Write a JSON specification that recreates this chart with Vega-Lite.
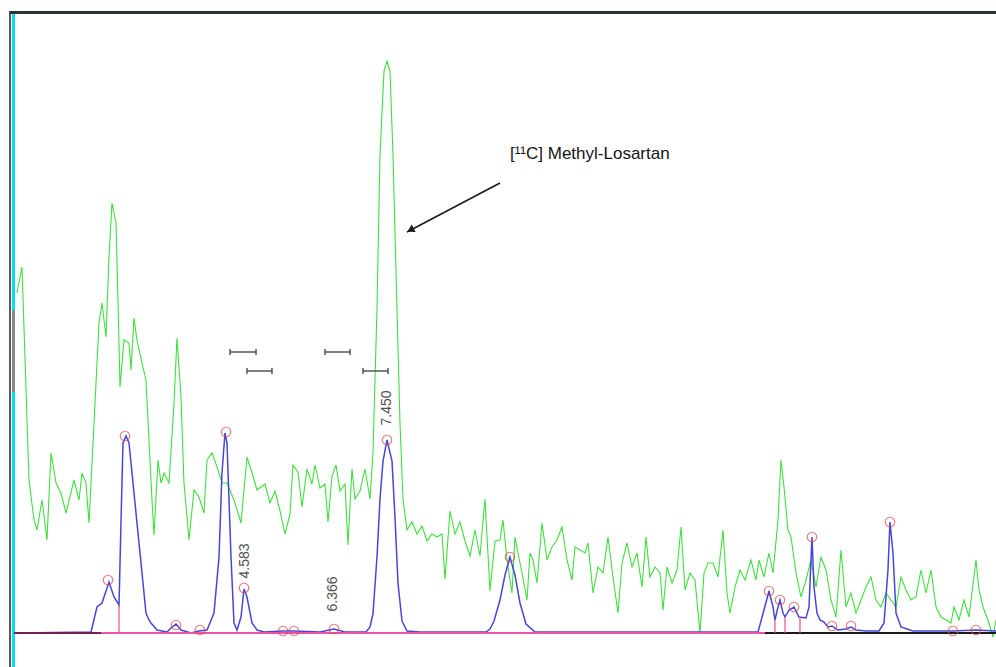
{
  "$schema": "https://vega.github.io/schema/vega-lite/v6.json",
  "width": 986,
  "height": 656,
  "autosize": {"type": "none"},
  "padding": {"left": 10, "top": 11, "right": 0, "bottom": 0},
  "background": "white",
  "config": {"view": {"stroke": null}},
  "datasets": {
    "frame": [{"edge": "frame"}],
    "green": [
      {"t":0.060,"s":340},{"t":0.159,"s":366},{"t":0.299,"s":153},{"t":0.398,"s":113},{"t":0.458,"s":103},{"t":0.558,"s":133},{"t":0.657,"s":93},{"t":0.737,"s":180},{"t":0.837,"s":150},{"t":0.936,"s":140},{"t":1.036,"s":120},{"t":1.195,"s":153},{"t":1.295,"s":133},{"t":1.355,"s":160},{"t":1.434,"s":150},{"t":1.494,"s":110},{"t":1.594,"s":210},{"t":1.693,"s":310},{"t":1.753,"s":330},{"t":1.833,"s":296},{"t":1.892,"s":376},{"t":1.952,"s":430},{"t":2.032,"s":410},{"t":2.072,"s":330},{"t":2.112,"s":246},{"t":2.191,"s":293},{"t":2.291,"s":290},{"t":2.331,"s":263},{"t":2.390,"s":315},{"t":2.450,"s":293},{"t":2.550,"s":270},{"t":2.629,"s":253},{"t":2.689,"s":193},{"t":2.749,"s":133},{"t":2.789,"s":98},{"t":2.869,"s":173},{"t":2.928,"s":150},{"t":2.988,"s":160},{"t":3.088,"s":150},{"t":3.187,"s":230},{"t":3.247,"s":295},{"t":3.327,"s":236},{"t":3.386,"s":150},{"t":3.486,"s":93},{"t":3.586,"s":143},{"t":3.685,"s":136},{"t":3.785,"s":120},{"t":3.845,"s":173},{"t":3.944,"s":180},{"t":4.044,"s":166},{"t":4.143,"s":150},{"t":4.243,"s":150},{"t":4.382,"s":133},{"t":4.522,"s":110},{"t":4.641,"s":176},{"t":4.741,"s":160},{"t":4.841,"s":143},
      {"t":5.000,"s":149},{"t":5.100,"s":130},{"t":5.199,"s":142},{"t":5.299,"s":122},{"t":5.398,"s":99},{"t":5.498,"s":119},{"t":5.558,"s":168},{"t":5.657,"s":161},{"t":5.737,"s":126},{"t":5.837,"s":164},{"t":5.936,"s":149},{"t":5.996,"s":168},{"t":6.096,"s":145},{"t":6.195,"s":149},{"t":6.255,"s":111},{"t":6.335,"s":157},{"t":6.414,"s":168},{"t":6.494,"s":142},{"t":6.594,"s":149},{"t":6.653,"s":88},{"t":6.733,"s":164},{"t":6.793,"s":134},{"t":6.892,"s":142},{"t":6.992,"s":164},{"t":7.092,"s":134},{"t":7.151,"s":180},{"t":7.231,"s":325},{"t":7.291,"s":478},{"t":7.371,"s":562},{"t":7.430,"s":572},{"t":7.490,"s":562},{"t":7.550,"s":478},{"t":7.629,"s":325},{"t":7.689,"s":210},{"t":7.749,"s":134},{"t":7.829,"s":103},{"t":7.928,"s":111},{"t":8.028,"s":99},{"t":8.127,"s":107},{"t":8.227,"s":92},{"t":8.327,"s":99},{"t":8.426,"s":96},{"t":8.526,"s":99},{"t":8.586,"s":54},{"t":8.685,"s":122},{"t":8.785,"s":99},{"t":8.884,"s":111},{"t":8.984,"s":92},{"t":9.084,"s":77},{"t":9.183,"s":103},{"t":9.283,"s":77},{"t":9.382,"s":134},{"t":9.482,"s":42},{"t":9.582,"s":92},
      {"t":9.681,"s":93},{"t":9.741,"s":113},{"t":9.821,"s":73},{"t":9.920,"s":40},{"t":9.980,"s":96},{"t":10.040,"s":80},{"t":10.120,"s":60},{"t":10.219,"s":33},{"t":10.279,"s":80},{"t":10.339,"s":73},{"t":10.418,"s":50},{"t":10.518,"s":110},{"t":10.618,"s":73},{"t":10.717,"s":86},{"t":10.817,"s":93},{"t":10.916,"s":106},{"t":11.016,"s":73},{"t":11.116,"s":53},{"t":11.175,"s":86},{"t":11.275,"s":83},{"t":11.375,"s":80},{"t":11.434,"s":90},{"t":11.534,"s":40},{"t":11.633,"s":66},{"t":11.733,"s":60},{"t":11.833,"s":96},{"t":11.932,"s":56},{"t":12.032,"s":20},{"t":12.112,"s":70},{"t":12.211,"s":90},{"t":12.311,"s":66},{"t":12.410,"s":80},{"t":12.510,"s":46},{"t":12.590,"s":96},{"t":12.669,"s":56},{"t":12.769,"s":66},{"t":12.869,"s":60},{"t":12.928,"s":23},{"t":13.008,"s":66},{"t":13.108,"s":50},{"t":13.207,"s":63},{"t":13.287,"s":106},{"t":13.367,"s":43},{"t":13.466,"s":60},{"t":13.566,"s":53},{"t":13.665,"s":0},{"t":13.745,"s":60},{"t":13.825,"s":70},{"t":13.924,"s":70},{"t":14.024,"s":56},{"t":14.124,"s":103},{"t":14.203,"s":40},{"t":14.263,"s":20},{"t":14.363,"s":46},{"t":14.462,"s":63},{"t":14.562,"s":53},
      {"t":14.681,"s":73},{"t":14.781,"s":53},{"t":14.841,"s":73},{"t":14.940,"s":56},{"t":15.040,"s":80},{"t":15.120,"s":60},{"t":15.219,"s":113},{"t":15.279,"s":173},{"t":15.339,"s":146},{"t":15.418,"s":103},{"t":15.478,"s":96},{"t":15.578,"s":60},{"t":15.677,"s":36},{"t":15.777,"s":53},{"t":15.876,"s":73},{"t":15.976,"s":46},{"t":16.076,"s":76},{"t":16.175,"s":63},{"t":16.275,"s":33},{"t":16.375,"s":16},{"t":16.474,"s":83},{"t":16.574,"s":26},{"t":16.673,"s":40},{"t":16.773,"s":20},{"t":16.873,"s":33},{"t":16.972,"s":46},{"t":17.072,"s":56},{"t":17.171,"s":33},{"t":17.271,"s":26},{"t":17.371,"s":40},{"t":17.470,"s":33},{"t":17.570,"s":26},{"t":17.669,"s":56},{"t":17.769,"s":43},{"t":17.869,"s":33},{"t":17.968,"s":36},{"t":18.068,"s":63},{"t":18.167,"s":40},{"t":18.267,"s":63},{"t":18.367,"s":26},{"t":18.466,"s":16},{"t":18.566,"s":13},{"t":18.665,"s":10},{"t":18.725,"s":26},{"t":18.825,"s":13},{"t":18.924,"s":33},{"t":19.024,"s":16},{"t":19.163,"s":73},{"t":19.223,"s":43},{"t":19.303,"s":26},{"t":19.402,"s":13},{"t":19.502,"s":-4},{"t":19.562,"s":13}
    ],
    "blue": [
      {"t":0.060,"s":0},{"t":1.534,"s":1},{"t":1.653,"s":26},{"t":1.753,"s":30},{"t":1.892,"s":51},{"t":1.992,"s":36},{"t":2.092,"s":28},{"t":2.131,"s":110},{"t":2.171,"s":190},{"t":2.231,"s":197},{"t":2.291,"s":190},{"t":2.351,"s":160},{"t":2.450,"s":110},{"t":2.550,"s":60},{"t":2.629,"s":20},{"t":2.689,"s":13},{"t":2.729,"s":10},{"t":2.849,"s":3},{"t":3.048,"s":1},{"t":3.127,"s":5},{"t":3.227,"s":9},{"t":3.327,"s":3},{"t":3.526,"s":0},{"t":3.685,"s":2},{"t":3.845,"s":3},{"t":3.984,"s":20},{"t":4.084,"s":76},{"t":4.143,"s":160},{"t":4.203,"s":200},{"t":4.243,"s":190},{"t":4.323,"s":76},{"t":4.382,"s":10},{"t":4.442,"s":3},{"t":4.522,"s":16},{"t":4.582,"s":44},{"t":4.641,"s":36},{"t":4.741,"s":10},{"t":4.841,"s":3},{"t":4.980,"s":1},{"t":5.359,"s":2},{"t":5.578,"s":2},{"t":6.096,"s":1},{"t":6.375,"s":4},{"t":6.594,"s":1},{"t":7.012,"s":1},{"t":7.092,"s":6},{"t":7.151,"s":19},{"t":7.231,"s":76},{"t":7.291,"s":134},{"t":7.351,"s":172},{"t":7.430,"s":193},{"t":7.530,"s":172},{"t":7.590,"s":115},{"t":7.649,"s":50},{"t":7.729,"s":12},{"t":7.829,"s":2},{"t":8.088,"s":1},{"t":9.402,"s":1},{"t":9.482,"s":4},{"t":9.562,"s":12},{"t":9.681,"s":33},{"t":9.781,"s":58},{"t":9.880,"s":76},{"t":9.980,"s":58},{"t":10.080,"s":30},{"t":10.199,"s":9},{"t":10.378,"s":1},{"t":14.821,"s":1},{"t":14.940,"s":23},{"t":15.040,"s":42},{"t":15.120,"s":26},{"t":15.159,"s":13},{"t":15.219,"s":26},{"t":15.259,"s":33},{"t":15.319,"s":20},{"t":15.359,"s":16},{"t":15.438,"s":23},{"t":15.538,"s":26},{"t":15.637,"s":16},{"t":15.777,"s":15},{"t":15.837,"s":26},{"t":15.896,"s":96},{"t":15.936,"s":46},{"t":15.996,"s":20},{"t":16.056,"s":13},{"t":16.135,"s":11},{"t":16.215,"s":6},{"t":16.295,"s":7},{"t":16.414,"s":3},{"t":16.574,"s":4},{"t":16.673,"s":6},{"t":16.773,"s":3},{"t":16.972,"s":2},{"t":17.231,"s":2},{"t":17.331,"s":10},{"t":17.410,"s":63},{"t":17.450,"s":111},{"t":17.510,"s":80},{"t":17.570,"s":20},{"t":17.669,"s":6},{"t":17.908,"s":2},{"t":18.705,"s":2},{"t":19.163,"s":3},{"t":19.562,"s":2}
    ],
    "peaks": [
      {"t":1.873,"s":53},{"t":2.211,"s":197},{"t":3.227,"s":8},{"t":3.705,"s":3},{"t":4.223,"s":201},{"t":4.582,"s":45},{"t":5.359,"s":2},{"t":5.578,"s":2},{"t":6.375,"s":4},{"t":7.430,"s":193},{"t":9.880,"s":76},{"t":15.040,"s":42},{"t":15.259,"s":33},{"t":15.538,"s":26},{"t":15.896,"s":96},{"t":16.295,"s":7},{"t":16.673,"s":7},{"t":17.450,"s":111},{"t":18.705,"s":2},{"t":19.163,"s":3}
    ],
    "baselines": [
      {"t":0.060,"t2":19.562,"s":0,"kind":"pink"},
      {"t":0.0,"t2":1.733,"s":0,"kind":"left"},
      {"t":14.960,"t2":19.562,"s":0,"kind":"right"}
    ],
    "drops": [
      {"t":2.092,"a":0,"b":28},{"t":15.159,"a":0,"b":13},{"t":15.359,"a":0,"b":16},{"t":15.657,"a":0,"b":16}
    ],
    "bars": [
      {"t":4.303,"t2":4.821,"s":281},{"t":4.641,"t2":5.139,"s":262},{"t":6.195,"t2":6.693,"s":281},{"t":6.952,"t2":7.450,"s":262}
    ],
    "caps": [
      {"t":4.303,"a":278,"b":284},{"t":4.821,"a":278,"b":284},{"t":4.641,"a":259,"b":265},{"t":5.139,"a":259,"b":265},{"t":6.195,"a":278,"b":284},{"t":6.693,"a":278,"b":284},{"t":6.952,"a":259,"b":265},{"t":7.450,"a":259,"b":265}
    ],
    "labels": [
      {"t":7.430,"s":225,"label":"7.450"},{"t":4.602,"s":72,"label":"4.583"},{"t":6.355,"s":39,"label":"6.366"}
    ],
    "note": [
      {"t":9.880,"s":474,"label":"[¹¹C] Methyl-Losartan"}
    ],
    "arrow": [
      {"t":9.681,"s":450,"t2":7.829,"s2":401}
    ],
    "head": [
      {"t":7.898,"s":403}
    ]
  },
  "layer": [
    {
      "data": {"name": "frame"},
      "mark": {"type": "rule", "color": "#00dff0", "strokeWidth": 3},
      "encoding": {"x": {"datum": -0.010, "type": "quantitative", "scale": {"domain": [-0.0797, 19.562], "nice": false, "zero": false}, "axis": null}}
    },
    {
      "data": {"name": "frame"},
      "mark": {"type": "rule", "color": "#8a8a8a", "strokeWidth": 3},
      "encoding": {
        "x": {"datum": -0.010, "type": "quantitative", "scale": {"domain": [-0.0797, 19.562], "nice": false, "zero": false}, "axis": null},
        "y": {"datum": 323, "type": "quantitative", "scale": {"domain": [-34, 622], "nice": false, "zero": false}, "axis": null},
        "y2": {"datum": 241}
      }
    },
    {
      "data": {"name": "frame"},
      "mark": {"type": "rule", "color": "#555b5b", "strokeWidth": 2},
      "encoding": {"x": {"datum": -0.0797, "type": "quantitative", "scale": {"domain": [-0.0797, 19.562], "nice": false, "zero": false}, "axis": null}}
    },
    {
      "data": {"name": "frame"},
      "mark": {"type": "rule", "color": "#2d3434", "strokeWidth": 3},
      "encoding": {"y": {"datum": 620.5, "type": "quantitative", "scale": {"domain": [-34, 622], "nice": false, "zero": false}, "axis": null}}
    },
    {
      "data": {"name": "green"},
      "mark": {"type": "line", "color": "#3ee03e", "strokeWidth": 1.1},
      "encoding": {
        "x": {"field": "t", "type": "quantitative", "scale": {"domain": [-0.0797, 19.562], "nice": false, "zero": false}, "axis": null},
        "y": {"field": "s", "type": "quantitative", "scale": {"domain": [-34, 622], "nice": false, "zero": false}, "axis": null}
      }
    },
    {
      "data": {"name": "blue"},
      "mark": {"type": "line", "color": "#4646dc", "strokeWidth": 1.5},
      "encoding": {
        "x": {"field": "t", "type": "quantitative", "scale": {"domain": [-0.0797, 19.562], "nice": false, "zero": false}, "axis": null},
        "y": {"field": "s", "type": "quantitative", "scale": {"domain": [-34, 622], "nice": false, "zero": false}, "axis": null}
      }
    },
    {
      "data": {"name": "baselines"},
      "mark": {"type": "rule", "strokeWidth": 2},
      "encoding": {
        "x": {"field": "t", "type": "quantitative", "scale": {"domain": [-0.0797, 19.562], "nice": false, "zero": false}, "axis": null},
        "x2": {"field": "t2"},
        "y": {"field": "s", "type": "quantitative", "scale": {"domain": [-34, 622], "nice": false, "zero": false}, "axis": null},
        "color": {"field": "kind", "type": "nominal", "scale": {"domain": ["pink", "left", "right"], "range": ["#f050a8", "#7a2050", "#1a1a1a"]}, "legend": null}
      }
    },
    {
      "data": {"name": "drops"},
      "mark": {"type": "rule", "color": "#f0508a", "strokeWidth": 1.2},
      "encoding": {
        "x": {"field": "t", "type": "quantitative", "scale": {"domain": [-0.0797, 19.562], "nice": false, "zero": false}, "axis": null},
        "y": {"field": "a", "type": "quantitative", "scale": {"domain": [-34, 622], "nice": false, "zero": false}, "axis": null},
        "y2": {"field": "b"}
      }
    },
    {
      "data": {"name": "peaks"},
      "mark": {"type": "point", "shape": "circle", "filled": false, "color": "#e04848", "strokeWidth": 1.2, "size": 90},
      "encoding": {
        "x": {"field": "t", "type": "quantitative", "scale": {"domain": [-0.0797, 19.562], "nice": false, "zero": false}, "axis": null},
        "y": {"field": "s", "type": "quantitative", "scale": {"domain": [-34, 622], "nice": false, "zero": false}, "axis": null}
      }
    },
    {
      "data": {"name": "bars"},
      "mark": {"type": "rule", "color": "#555555", "strokeWidth": 1.5},
      "encoding": {
        "x": {"field": "t", "type": "quantitative", "scale": {"domain": [-0.0797, 19.562], "nice": false, "zero": false}, "axis": null},
        "x2": {"field": "t2"},
        "y": {"field": "s", "type": "quantitative", "scale": {"domain": [-34, 622], "nice": false, "zero": false}, "axis": null}
      }
    },
    {
      "data": {"name": "caps"},
      "mark": {"type": "rule", "color": "#555555", "strokeWidth": 1.5},
      "encoding": {
        "x": {"field": "t", "type": "quantitative", "scale": {"domain": [-0.0797, 19.562], "nice": false, "zero": false}, "axis": null},
        "y": {"field": "a", "type": "quantitative", "scale": {"domain": [-34, 622], "nice": false, "zero": false}, "axis": null},
        "y2": {"field": "b"}
      }
    },
    {
      "data": {"name": "labels"},
      "mark": {"type": "text", "angle": 270, "align": "center", "baseline": "middle", "font": "Liberation Sans", "fontSize": 14, "color": "#505050"},
      "encoding": {
        "x": {"field": "t", "type": "quantitative", "scale": {"domain": [-0.0797, 19.562], "nice": false, "zero": false}, "axis": null},
        "y": {"field": "s", "type": "quantitative", "scale": {"domain": [-34, 622], "nice": false, "zero": false}, "axis": null},
        "text": {"field": "label"}
      }
    },
    {
      "data": {"name": "note"},
      "mark": {"type": "text", "align": "left", "baseline": "alphabetic", "font": "Liberation Sans", "fontSize": 17, "color": "#151515"},
      "encoding": {
        "x": {"field": "t", "type": "quantitative", "scale": {"domain": [-0.0797, 19.562], "nice": false, "zero": false}, "axis": null},
        "y": {"field": "s", "type": "quantitative", "scale": {"domain": [-34, 622], "nice": false, "zero": false}, "axis": null},
        "text": {"field": "label"}
      }
    },
    {
      "data": {"name": "arrow"},
      "mark": {"type": "rule", "color": "#1a1a1a", "strokeWidth": 1.6},
      "encoding": {
        "x": {"field": "t", "type": "quantitative", "scale": {"domain": [-0.0797, 19.562], "nice": false, "zero": false}, "axis": null},
        "x2": {"field": "t2"},
        "y": {"field": "s", "type": "quantitative", "scale": {"domain": [-34, 622], "nice": false, "zero": false}, "axis": null},
        "y2": {"field": "s2"}
      }
    },
    {
      "data": {"name": "head"},
      "mark": {"type": "point", "shape": "triangle-left", "filled": true, "color": "#1a1a1a", "size": 70, "angle": 332, "opacity": 1},
      "encoding": {
        "x": {"field": "t", "type": "quantitative", "scale": {"domain": [-0.0797, 19.562], "nice": false, "zero": false}, "axis": null},
        "y": {"field": "s", "type": "quantitative", "scale": {"domain": [-34, 622], "nice": false, "zero": false}, "axis": null}
      }
    }
  ]
}
